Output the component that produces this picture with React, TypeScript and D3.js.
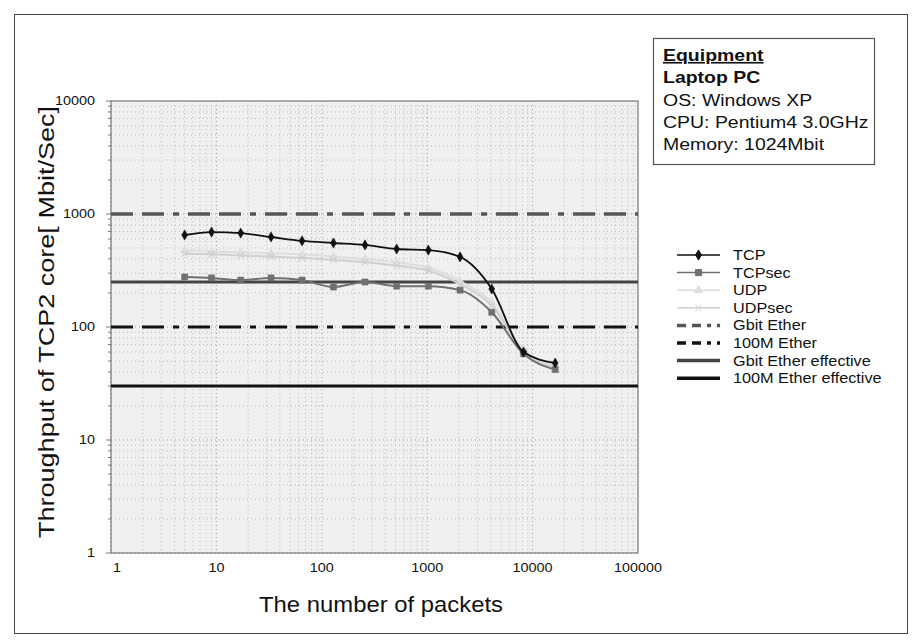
import React, {useEffect, useRef} from "react";
import * as d3 from "d3";

// packet counts (2^n + 1)
const packets = [5, 9, 17, 33, 65, 129, 257, 513, 1025, 2049, 4097, 8193, 16385];

const tcp = [652, 692, 678, 626, 578, 554, 532, 490, 479, 417, 217, 60, 48];
const tcpSec = [277, 272, 260, 272, 260, 226, 250, 230, 230, 212, 135, 58, 42];
const udp = [475, 465, 460, 450, 440, 420, 400, 375, 335, 255, 165, 64, 46];
const udpSec = [445, 440, 430, 420, 410, 392, 375, 350, 315, 240, 155, 61, 44];

// reference lines (constant throughput)
const refNames = ["Gbit Ether", "100M Ether", "Gbit Ether effective", "100M Ether effective"];
const refValues = [1000, 100, 250, 30];

const xTicks = [1, 10, 100, 1000, 10000, 100000];
const yTicks = [1, 10, 100, 1000, 10000];

const equipment = ["Equipment", "Laptop PC", "OS: Windows XP", "CPU: Pentium4 3.0GHz", "Memory: 1024Mbit"];

const FONT = "Liberation Sans, Arial, sans-serif";

export default function App() {
    const svgRef = useRef<SVGSVGElement>(null);
    const width = 922;
    const height = 641;

    useEffect(() => {
        const svg = d3.select(svgRef.current);
        svg.selectAll("*").remove();

        const left = 111, right = 638, top = 101, bottom = 553;

        const x = d3.scaleLog().domain([1, 100000]).range([left, right]);
        const y = d3.scaleLog().domain([1, 10000]).range([bottom, top]);

        // the original's lettering is a bit wide, so stretch text horizontally
        const label = (parent: any, tx: number, ty: number, str: string, size: number,
                       sx: number, anchor = "start", extra: (t: any) => void = () => {}) => {
            const t = parent.append("text")
                .attr("transform", `translate(${tx},${ty}) scale(${sx},1)`)
                .attr("text-anchor", anchor)
                .attr("font-family", FONT)
                .attr("font-size", size)
                .attr("fill", "#111")
                .text(str);
            extra(t);
            return t;
        };

        svg.append("rect")
            .attr("x", 0).attr("y", 0).attr("width", width).attr("height", height)
            .attr("fill", "#fff");

        // outer frame
        svg.append("rect")
            .attr("x", 14.5).attr("y", 14.5).attr("width", 893).attr("height", 619)
            .attr("fill", "none").attr("stroke", "#444").attr("stroke-width", 1);

        // plot background
        svg.append("rect")
            .attr("x", left).attr("y", top).attr("width", right - left).attr("height", bottom - top)
            .attr("fill", "#f0f0f0");

        const grid = svg.append("g");

        // minor + major grid, both dotted
        const xMinor: number[] = [];
        for (let e = 0; e < 5; e++) for (let k = 1; k < 10; k++) xMinor.push(k * Math.pow(10, e));
        xMinor.forEach(v => {
            grid.append("line")
                .attr("x1", x(v)).attr("x2", x(v)).attr("y1", top).attr("y2", bottom)
                .attr("stroke", Math.log10(v) % 1 === 0 ? "#999" : "#bbb")
                .attr("stroke-width", 1)
                .attr("stroke-dasharray", "1,3");
        });
        const yMinor: number[] = [];
        for (let e = 0; e < 4; e++) for (let k = 1; k < 10; k++) yMinor.push(k * Math.pow(10, e));
        yMinor.forEach(v => {
            grid.append("line")
                .attr("x1", left).attr("x2", right).attr("y1", y(v)).attr("y2", y(v))
                .attr("stroke", Math.log10(v) % 1 === 0 ? "#999" : "#bbb")
                .attr("stroke-width", 1)
                .attr("stroke-dasharray", "1,3");
        });

        // plot border
        svg.append("rect")
            .attr("x", left).attr("y", top).attr("width", right - left).attr("height", bottom - top)
            .attr("fill", "none").attr("stroke", "#777").attr("stroke-width", 1.2);

        // small ticks on the left
        yMinor.concat([10000]).forEach(v => {
            svg.append("line")
                .attr("x1", left - (Math.log10(v) % 1 === 0 ? 5 : 3)).attr("x2", left)
                .attr("y1", y(v)).attr("y2", y(v))
                .attr("stroke", "#777");
        });

        // tick labels
        yTicks.forEach(d => label(svg, 95, y(d) + 4, String(d), 12, 1.2, "end"));
        xTicks.forEach((d, i) => label(svg, x(d) + (i === 0 ? 6 : 0), 572, String(d), 12, 1.2, "middle"));

        // axis titles
        svg.append("text")
            .attr("transform", `translate(54, ${(top + bottom) / 2 - 5}) rotate(-90)`)
            .attr("text-anchor", "middle")
            .attr("font-family", FONT)
            .attr("font-size", 22)
            .attr("fill", "#111")
            .attr("textLength", 432)
            .attr("lengthAdjust", "spacingAndGlyphs")
            .text("Throughput of TCP2 core[ Mbit/Sec]");

        svg.append("text")
            .attr("x", 381)
            .attr("y", 612)
            .attr("text-anchor", "middle")
            .attr("font-family", FONT)
            .attr("font-size", 22)
            .attr("fill", "#111")
            .attr("textLength", 244)
            .attr("lengthAdjust", "spacingAndGlyphs")
            .text("The number of packets");

        // reference lines
        const refStyles = [
            {color: "#555", width: 3.5, dash: "22,9,22,9,6,9"},
            {color: "#111", width: 3, dash: "22,9,22,9,6,9"},
            {color: "#444", width: 3, dash: null},
            {color: "#111", width: 3, dash: null},
        ];
        refValues.forEach((v, i) => {
            svg.append("line")
                .attr("x1", left).attr("x2", right)
                .attr("y1", y(v)).attr("y2", y(v))
                .attr("stroke", refStyles[i].color)
                .attr("stroke-width", refStyles[i].width)
                .attr("stroke-dasharray", refStyles[i].dash);
        });

        // data series
        const series = [
            {name: "TCP", values: tcp, color: "#111", marker: "diamond", w: 1.8},
            {name: "TCPsec", values: tcpSec, color: "#707070", marker: "square", w: 2},
            {name: "UDP", values: udp, color: "#dedede", marker: "triangle", w: 2},
            {name: "UDPsec", values: udpSec, color: "#d0d0d0", marker: "cross", w: 2},
        ];

        const line = d3.line<[number, number]>()
            .x(d => x(d[0]))
            .y(d => y(d[1]))
            .curve(d3.curveMonotoneX);

        const symbolFor = (m: string) => {
            if (m === "diamond") return d3.symbol().type(d3.symbolDiamond).size(30);
            if (m === "square") return d3.symbol().type(d3.symbolSquare).size(38);
            if (m === "triangle") return d3.symbol().type(d3.symbolTriangle).size(28);
            return d3.symbol().type(d3.symbolX).size(28);
        };

        // light series first, dark ones on top
        [2, 3, 1, 0].forEach(si => {
            const s = series[si];
            const pts: [number, number][] = packets.map((p, i) => [p, s.values[i]]);
            svg.append("path")
                .datum(pts)
                .attr("fill", "none")
                .attr("stroke", s.color)
                .attr("stroke-width", s.w)
                .attr("d", line);
            svg.append("g").selectAll("path")
                .data(pts)
                .join("path")
                .attr("transform", d => `translate(${x(d[0])},${y(d[1])})`)
                .attr("d", symbolFor(s.marker))
                .attr("fill", s.marker === "cross" ? "none" : s.color)
                .attr("stroke", s.color)
                .attr("stroke-width", s.marker === "cross" ? 1.2 : 0.5);
        });

        // legend
        const legend = svg.append("g").attr("transform", "translate(677, 255)");
        const legendItems = [
            ...series.map(s => ({name: s.name, color: s.color, dash: null as string | null, w: 1.5, marker: s.marker})),
            ...refNames.map((n, i) => ({name: n, color: refStyles[i].color, dash: refStyles[i].dash ? "9,6,9,6,4,6" : null, w: 3.5, marker: ""})),
        ];
        legendItems.forEach((it, i) => {
            const yy = i * 17.6;
            legend.append("line")
                .attr("x1", 0).attr("x2", 43)
                .attr("y1", yy).attr("y2", yy)
                .attr("stroke", it.color)
                .attr("stroke-width", it.w)
                .attr("stroke-dasharray", it.dash);
            if (it.marker) {
                legend.append("path")
                    .attr("transform", `translate(21.5,${yy})`)
                    .attr("d", symbolFor(it.marker))
                    .attr("fill", it.marker === "cross" ? "none" : it.color)
                    .attr("stroke", it.color);
            }
            label(legend, 56, yy + 5, it.name, 14, 1.16);
        });

        // equipment box
        svg.append("rect")
            .attr("x", 653.5).attr("y", 38.5).attr("width", 221).attr("height", 126)
            .attr("fill", "#fff").attr("stroke", "#555").attr("stroke-width", 1.2);
        equipment.forEach((t, i) => {
            label(svg, 663, 61 + i * 22.3, t, 16.5, 1.18, "start", (el: any) => {
                el.attr("font-weight", i < 2 ? "bold" : "normal")
                    .attr("text-decoration", i === 0 ? "underline" : null);
            });
        });
    }, []);

    return (
        <svg ref={svgRef} width={width} height={height}
             style={{position: "absolute", left: 0, top: 0}}></svg>
    );
}
